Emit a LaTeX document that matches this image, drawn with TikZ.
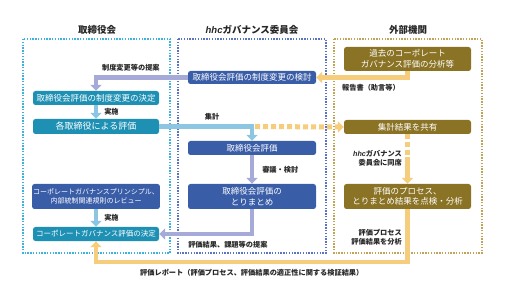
\documentclass[tikz,border=0pt]{standalone}
\usepackage{fontspec}
\setmainfont{Noto Sans CJK JP}
\newfontfamily\latinfont{Liberation Sans}
\usetikzlibrary{arrows.meta}

\definecolor{cgteal}{HTML}{1E90B4}
\definecolor{cgblue}{HTML}{3A5DA8}
\definecolor{cgolive}{HTML}{8A7324}
\definecolor{arrowlav}{HTML}{A6AAD8}
\definecolor{arrowsky}{HTML}{8CC6E2}
\definecolor{arrowgold}{HTML}{F6CD7C}
\definecolor{framecyan}{HTML}{3DB2DE}
\definecolor{frameblue}{HTML}{5B73C2}
\definecolor{framegold}{HTML}{C2A458}

\newcommand{\hhc}{{\latinfont\itshape\bfseries hhc}}

\begin{document}
\begin{tikzpicture}[
    x=1pt, y=-1pt, % pixel grid, origin top left
    >={Triangle[width=11pt,length=6pt]}, % fat arrow heads
    frame/.style={line width=1.3pt, dash pattern=on 1.4pt off 1.4pt},
    title/.style={font=\fontsize{9.5}{11}\selectfont\bfseries, text=black!85},
    box/.style={rounded corners=2.5pt, text=white, align=center, inner sep=1pt,
        minimum height=14pt, font=\fontsize{8.5}{10.5}\selectfont},
    tealbox/.style={box, fill=cgteal, minimum width=126pt},
    bluebox/.style={box, fill=cgblue, minimum width=128pt},
    olivebox/.style={box, fill=cgolive, minimum width=127pt},
    lbl/.style={font=\fontsize{7.2}{9}\selectfont\bfseries, text=black!85, inner sep=1pt},
    lavarrow/.style={->, line width=4.5pt, draw=arrowlav, color=arrowlav},
    skyarrow/.style={->, line width=4.5pt, draw=arrowsky, color=arrowsky},
    goldarrow/.style={->, line width=4.5pt, draw=arrowgold, color=arrowgold},
    golddash/.style={line width=5pt, draw=arrowgold, color=arrowgold, dash pattern=on 5pt off 3pt}
]
    \useasboundingbox (0,0) rectangle (508,288);

    % Frames of the three bodies
    \draw[frame, framecyan] (23,39) rectangle (170,253);
    \draw[frame, frameblue] (178,39) rectangle (326,253);
    \draw[frame, framegold] (334,39) rectangle (482,253);

    \node[title] (boardtitle) at (97,30) {取締役会};
    \node[title] (hhctitle) at (252,30) {\hhc ガバナンス委員会};
    \node[title] (extitle) at (408,30) {外部機関};

    % Board of directors
    \node[tealbox] (decide) at (96,98) {取締役会評価の制度変更の決定};
    \node[tealbox, minimum height=15pt, font=\fontsize{9}{11}\selectfont] (each) at (96,126.5) {各取締役による評価};
    \node[bluebox, minimum width=126pt, minimum height=25pt, font=\fontsize{7}{9.5}\selectfont] (review) at (96,196.5)
        {コーポレートガバナンスプリンシプル、\\内部統制関連規則のレビュー};
    \node[tealbox, font=\fontsize{7.5}{9}\selectfont] (cgdecide) at (96,234) {コーポレートガバナンス評価の決定};

    % Governance committee
    \node[bluebox, minimum height=13pt] (study) at (252,77.5) {取締役会評価の制度変更の検討};
    \node[bluebox] (bdeval) at (252,148) {取締役会評価};
    \node[bluebox, minimum height=25pt] (summary) at (252,196.5) {取締役会評価の\\とりまとめ};

    % External body
    \node[olivebox, minimum height=24pt] (past) at (407.5,59) {過去のコーポレート\\ガバナンス評価の分析等};
    \node[olivebox] (share) at (407.5,127) {集計結果を共有};
    \node[olivebox, minimum height=25pt] (check) at (407.5,196.5) {評価のプロセス、\\とりまとめ結果を点検・分析};

    % Connectors
    \draw[lavarrow] (study.west) -| node[lbl, pos=0.31, above=3pt] {制度変更等の提案} (decide.north);
    \draw[skyarrow] (decide) -- node[lbl, right=5pt] {実施} (each);
    \draw[skyarrow] (each.east) -| node[lbl, pos=0.285, above=3pt] {集計} (bdeval.north);
    \draw[golddash] ([xshift=3pt]bdeval.north |- each.east) -- ([xshift=-6pt]share.west);
    \draw[goldarrow] ([xshift=-7pt]share.west) -- (share.west);
    \draw[lavarrow] (bdeval) -- node[lbl, right=7pt] {審議・検討} (summary);
    \draw[lavarrow] (summary.south) |- node[lbl, pos=0.63, below=4pt] {評価結果、課題等の提案} (cgdecide.east);
    \draw[skyarrow] (review) -- node[lbl, right=5pt] {実施} (cgdecide);

    \draw[goldarrow] (past.south) |- node[lbl, pos=0.7, below=4pt] {報告書（助言等）} (study.east);

    \coordinate (attend) at (407.5,157);
    \draw[golddash] (share.south) -- (attend);
    \draw[goldarrow] (attend) -- (check.north);
    \node[lbl, align=right, anchor=east] (attendlbl) at (403,158) {\hhc ガバナンス\\委員会に同席};

    \draw[goldarrow] (check.south) |- node[lbl, pos=0.75, below=4pt]
        {評価レポート（評価プロセス、評価結果の適正性に関する検証結果）} ([yshift=-21pt]cgdecide.south) -- (cgdecide.south);
    \node[lbl, align=right, anchor=east] (analyselbl) at (403,237) {評価プロセス\\評価結果を分析};

\end{tikzpicture}
\end{document}
